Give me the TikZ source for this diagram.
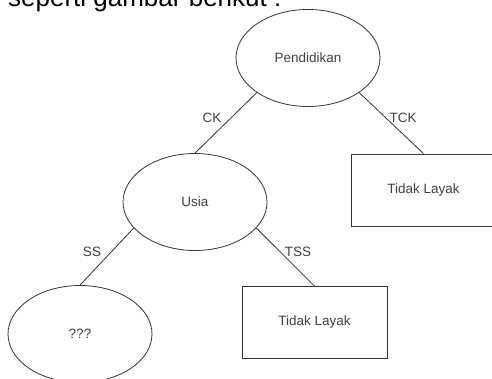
\documentclass[tikz,border=0pt]{standalone}
\usepackage{fontspec}
\setmainfont{Liberation Sans}
\usetikzlibrary{shapes.geometric}

\begin{document}
\begin{tikzpicture}[x=1pt,y=-1pt,
			attr/.style={draw=black!80, line width=0.8pt, ellipse, minimum width=144pt, minimum height=97pt, inner sep=0pt, font=\fontsize{13.5}{14}\selectfont, text=black!75},
			leaf/.style={draw=black!80, line width=0.8pt, rectangle, minimum width=145pt, minimum height=72pt, inner sep=0pt, font=\fontsize{13.5}{14}\selectfont, text=black!75},
			lbl/.style={inner sep=0pt, font=\fontsize{13.5}{14}\selectfont, text=black!75},
			edge/.style={draw=black!80, line width=0.8pt}]
			\path[use as bounding box, clip] (0,0) rectangle (492,378);
			\fill[white] (0,0) rectangle (492,378);
			
			\node[anchor=base west, inner sep=0pt, font=\fontsize{26}{26}\selectfont] (judul) at (8,6) {seperti gambar berikut :};
			
			\node[attr] (pend) at (308,58) {Pendidikan};
			\node[attr] (usia) at (195,202) {Usia};
			\node[attr] (tanya) at (80,334) {???};
			\node[leaf] (layak1) at (423.5,190) {Tidak Layak};
			\node[leaf] (layak2) at (314.5,322.5) {Tidak Layak};
			
			\draw[edge] (pend.south west) -- (usia.north);
			\draw[edge] (pend.south east) -- (layak1.north);
			\draw[edge] (usia.203) -- (tanya.north);
			\draw[edge] (usia.-23) -- (layak2.north);
			
			\node[lbl] (ck) at (212,118) {CK};
			\node[lbl] (tck) at (403,118) {TCK};
			\node[lbl] (ss) at (92,252) {SS};
			\node[lbl] (tss) at (298,252) {TSS};
		\end{tikzpicture}
\end{document}
